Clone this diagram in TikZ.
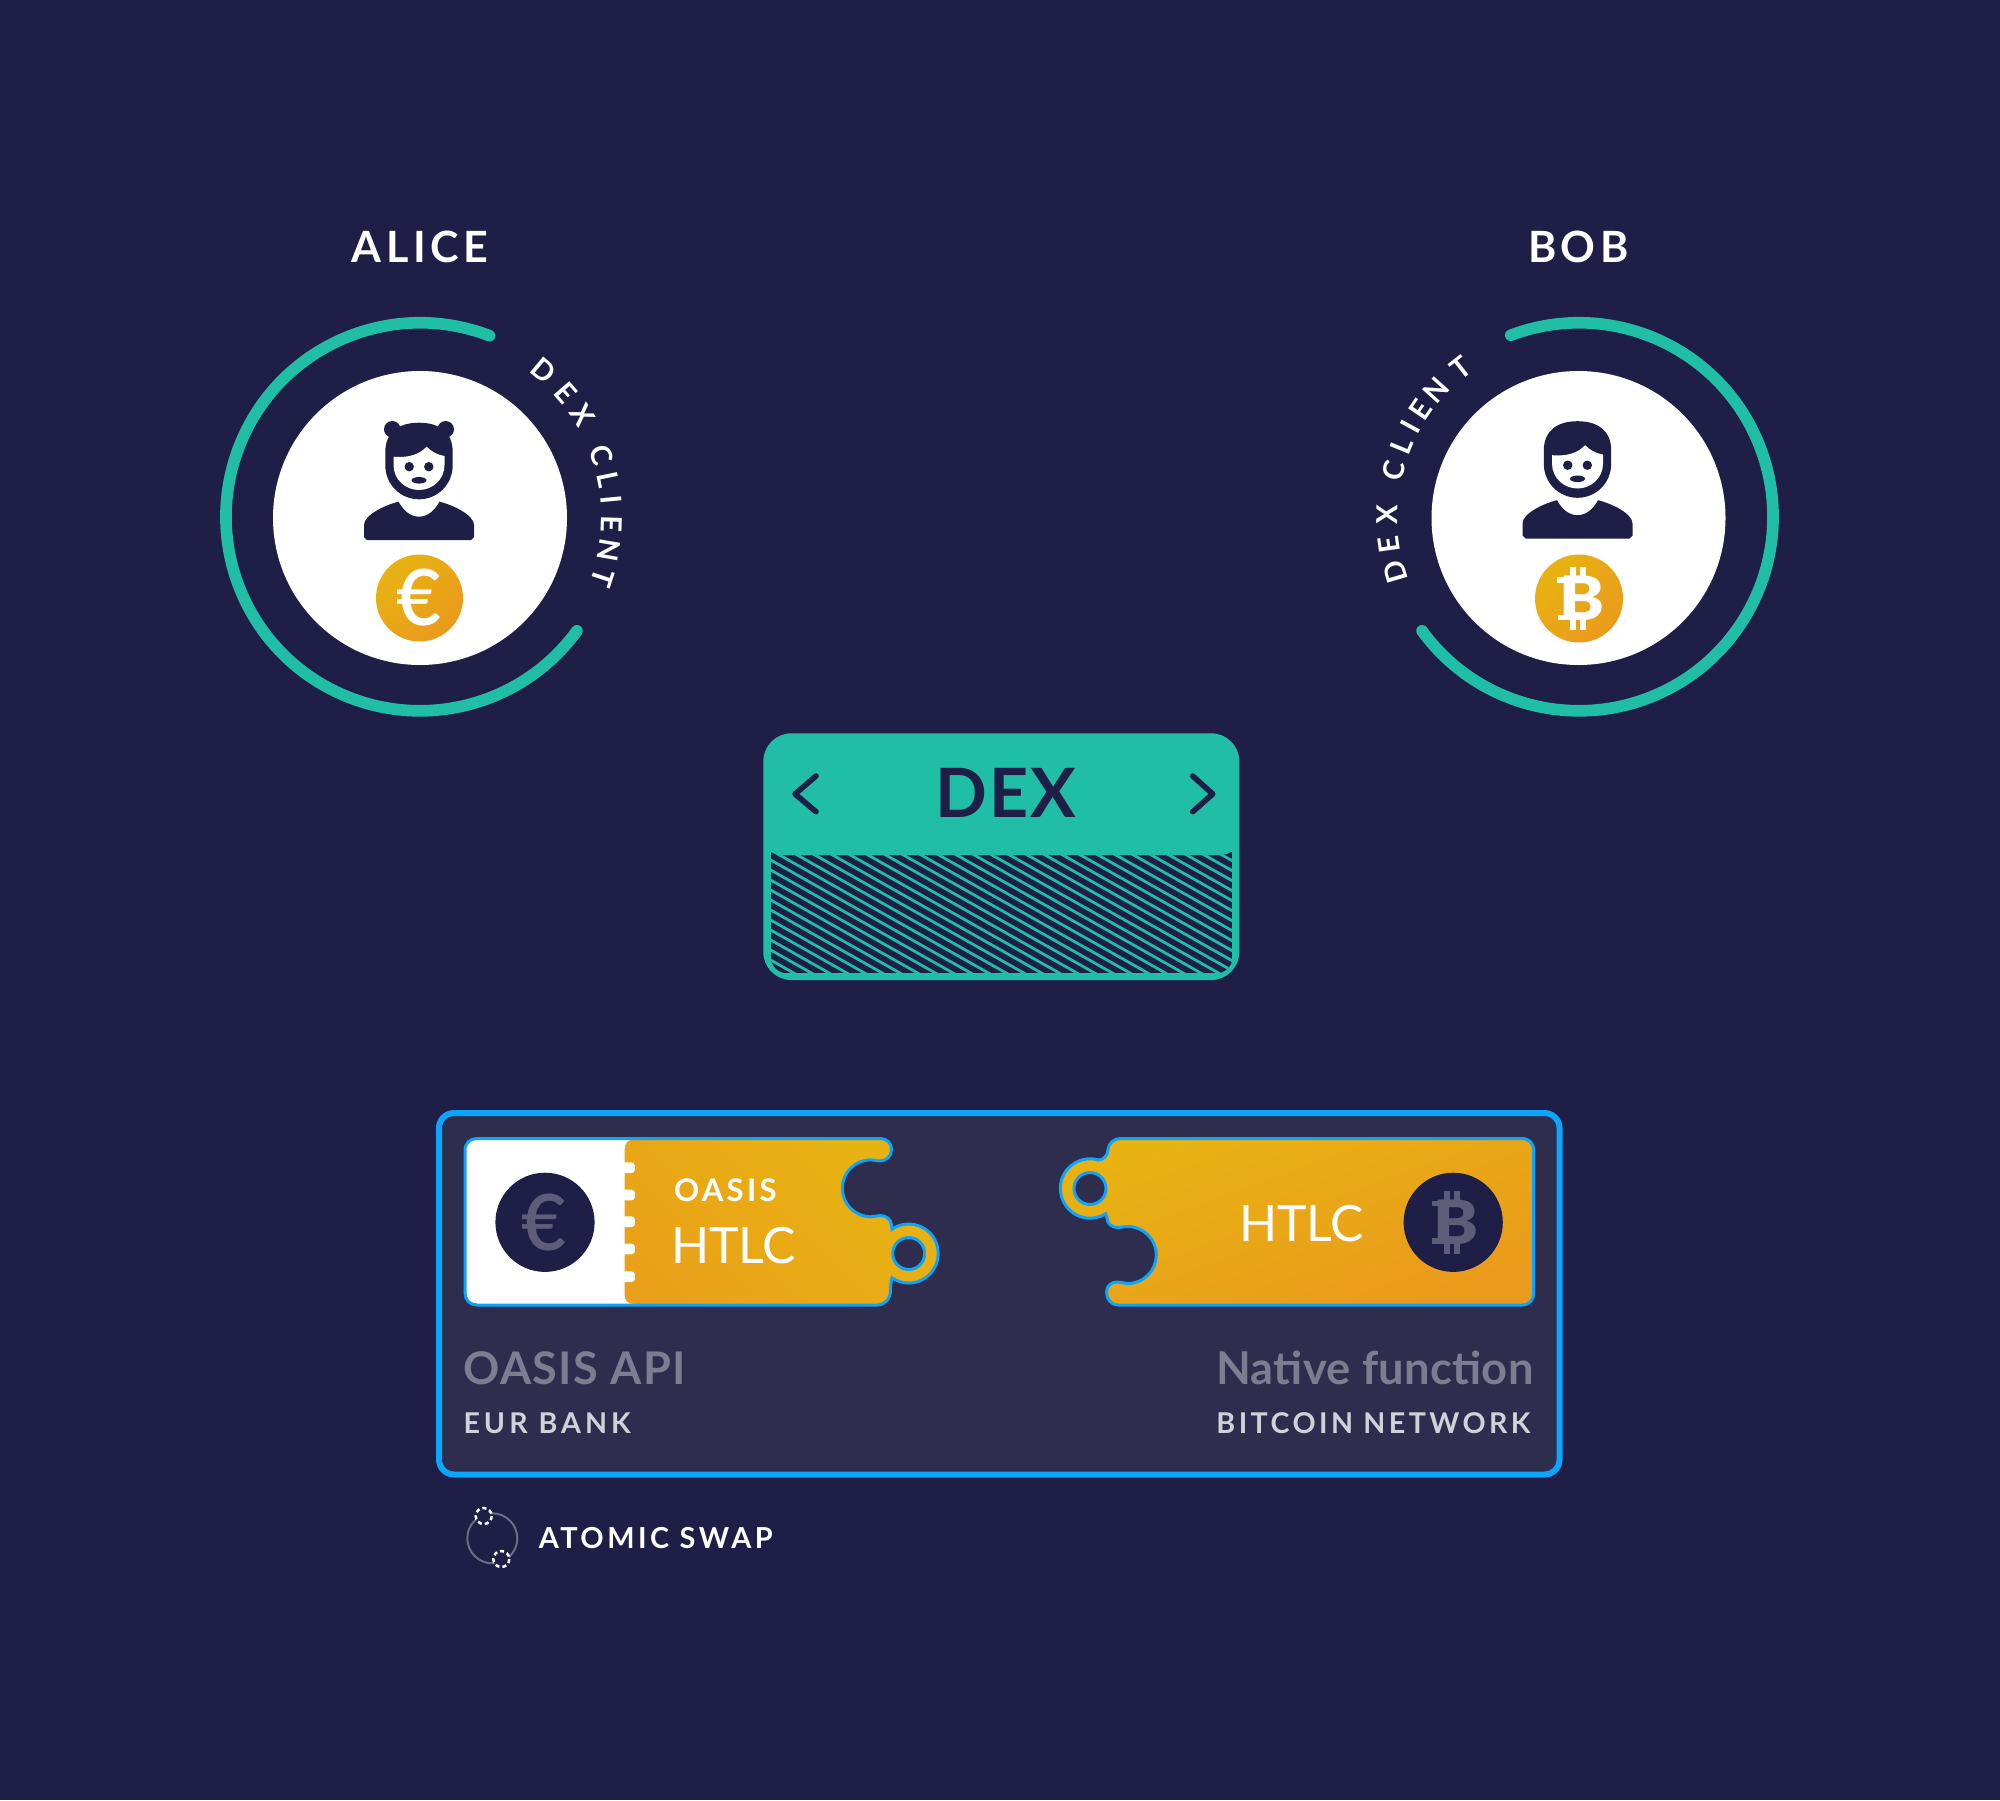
\documentclass[tikz,border=0pt]{standalone}
\usepackage{xcolor}
\usepackage{fontspec}
\usetikzlibrary{calc}
\setmainfont{Lato}
\newfontfamily\medfont{Lato}[UprightFont=* Bold,LetterSpace=0.6]
\newfontfamily\capsfont{Lato}[UprightFont=* Bold,LetterSpace=10.5]
\newfontfamily\dexfont{Lato}[UprightFont=* Bold,LetterSpace=3]
\newfontfamily\blackfont{Lato}[UprightFont=* Black]
\newfontfamily\coinfont{Lato}[UprightFont=* Semibold]
\definecolor{nightbg}{HTML}{1E1E46}
\definecolor{panelbg}{HTML}{2E2D4D}
\definecolor{dexteal}{HTML}{20BDA7}
\definecolor{lineblue}{HTML}{0DA5FC}
\definecolor{goldtop}{HTML}{E8B312}
\definecolor{goldlow}{HTML}{EA9A1C}
\definecolor{dimmark}{HTML}{5E5C78}
\definecolor{dimtext}{HTML}{7E7C90}
\definecolor{softtext}{HTML}{D2D1D9}
\definecolor{ringgrey}{HTML}{6E6C84}
\newcommand{\ticketleft}{(477,1138.5) -- (880,1138.5) .. controls (887,1138.5) and (891.5,1143) .. (891.5,1149.5) .. controls (891.5,1156) and (886,1161) .. (880,1161) .. controls (877,1161) and (874,1159.8) .. (870.8,1159.8) arc [start angle=-90,end angle=-270,radius=28.5] .. controls (874,1216.8) and (877,1215.5) .. (880,1215.5) .. controls (886,1215.5) and (891,1219) .. (891.5,1225) -- (892,1229.2) arc [start angle=-124.5,end angle=124.5,radius=29.5] .. controls (891,1282) and (890.5,1285) .. (890.5,1290) .. controls (890.5,1299) and (885,1305) .. (877,1305) -- (477,1305) .. controls (470,1305) and (465,1300) .. (465,1293) -- (465,1150.5) .. controls (465,1143) and (470,1138.5) .. (477,1138.5) -- cycle}
\newcommand{\ticketright}{(1521.7,1138.5) -- (1121,1138.5) .. controls (1114,1138.5) and (1108.5,1143) .. (1108,1150) .. controls (1107.5,1156) and (1103,1160) .. (1098.5,1160) arc [start angle=-73.4,end angle=-301.8,radius=29.7] -- (1107,1218) .. controls (1107,1224) and (1112,1227.5) .. (1118,1227.5) .. controls (1121,1227.5) and (1124,1226.5) .. (1127.8,1226.5) arc [start angle=-90,end angle=90,radius=28.5] .. controls (1124,1283.5) and (1121,1282) .. (1117.5,1282) .. controls (1111,1282) and (1106.5,1286) .. (1106.5,1292) .. controls (1106.5,1299) and (1111,1305) .. (1118,1305) -- (1521.7,1305) .. controls (1529,1305) and (1533.7,1300) .. (1533.7,1293) -- (1533.7,1150.5) .. controls (1533.7,1143) and (1529,1138.5) .. (1521.7,1138.5) -- cycle}
\tikzset{
	ring/.style={color=dexteal,line width=4.2pt,line cap=round},
	ticketline/.style={color=lineblue,line width=1.08pt},
	arcletter/.style={text=white,inner sep=0pt,font=\capsfont\fontsize{10.4}{12}\selectfont},
	coinglyph/.style={inner sep=0pt,font=\coinfont\fontsize{28}{32}\selectfont},
	dashring/.style={color=white,fill=nightbg,dash pattern=on 1.5pt off 1.1pt,line width=0.9pt},
	pics/persona/.style={code={
		\fill [color=nightbg] (-52,22) -- (-55,19) -- (-55,7) .. controls (-55,-3) and (-34,-13) .. (-20.5,-16.3) .. controls (-16,-8) and (-9,-1.3) .. (0,-1.3) .. controls (9,-1.3) and (16,-8) .. (20.5,-16.3) .. controls (34,-13) and (55,-3) .. (55,7) -- (55,19) -- (52,22) -- cycle;
		\fill [color=nightbg] (-33.7,-66) .. controls (-33.7,-86) and (-20,-95.3) .. (0,-95.3) .. controls (20,-95.3) and (33.7,-86) .. (33.7,-66) -- (33.7,-53) .. controls (33.7,-33) and (18,-18.7) .. (0,-18.7) .. controls (-18,-18.7) and (-33.7,-33) .. (-33.7,-53) -- cycle;
		\fill [color=white] (-25.5,-61.3) .. controls (-12,-60) and (0,-63) .. (7.6,-71.3) .. controls (12,-67) and (18,-63) .. (25.5,-62) -- (25.5,-53) .. controls (25.5,-38) and (13,-28) .. (0,-28) .. controls (-13,-28) and (-25.5,-38) .. (-25.5,-53) -- cycle;
		\fill [color=nightbg] (-9.8,-51.3) circle [radius=4.7];
		\fill [color=nightbg] (9.8,-51.3) circle [radius=4.7];
		\fill [color=nightbg] (0,-37.7) ellipse [x radius=7.5,y radius=3.3];
	}},
	pics/bitcoinmark/.style={code={
		\fill [color=#1] (-9,-31.5) rectangle (-3.5,-18);
		\fill [color=#1] (1,-31.5) rectangle (6.5,-18);
		\fill [color=#1] (-9,18) rectangle (-3.5,31.5);
		\fill [color=#1] (1,18) rectangle (6.5,31.5);
		\fill [color=#1] (-21.7,16) rectangle (-12,21.5);
		\fill [color=#1] (-21,-21.5) rectangle (-12,-16);
		\node (btcglyph) [text=#1,inner sep=0pt,xscale=1.1,font=\blackfont\fontsize{22}{26}\selectfont] at (3,0) {B};
	}},
}
\begin{document}
\begin{tikzpicture}[x=0.36pt,y=0.36pt,yscale=-1,xscale=1]
	\fill [color=nightbg] (0,0) rectangle (2000,1800);
	\useasboundingbox (0,0) rectangle (2000,1800);
	%alice
	\draw (420,262.7) node (alicename) [anchor=base,text=white,inner sep=0pt,font=\capsfont\fontsize{15.5}{18}\selectfont] {ALICE};
	\draw [ring] (420,516.8) ++(-69:194) arc [start angle=-69,end angle=-324,radius=194];
	\fill [color=white] (420,518) circle [radius=147];
	\pic [yscale=-1] at (419,518) {persona};
	\fill [color=nightbg] (392.3,429.3) circle [radius=8.3];
	\fill [color=nightbg] (445.7,429.3) circle [radius=8.3];
	\shade [top color=goldtop,bottom color=goldlow,shading angle=45] (419.5,598) circle [radius=43.5];
	\draw (419,598) node (alicecoin) [coinglyph,text=white] {€};
	\foreach \letter/\ang [count=\i] in {D/50,E/40.8,X/32.3,C/19.2,L/11.6,I/5.4,E/-1.7,N/-9.8,T/-18.2}
		\node (aliceletter\i) [arcletter,rotate=\ang-90] at ($(420,518)+(-\ang:192)$) {\letter};
	%bob
	\draw (1578.3,262.7) node (bobname) [anchor=base,text=white,inner sep=0pt,font=\capsfont\fontsize{15.5}{18}\selectfont] {BOB};
	\draw [ring] (1579,516.8) ++(-110.6:194) arc [start angle=-110.6,end angle=144,radius=194];
	\fill [color=white] (1578.5,518) circle [radius=147];
	\pic [yscale=-1] at (1577.5,516.5) {persona};
	\shade [top color=goldtop,bottom color=goldlow,shading angle=45] (1579,598.5) circle [radius=44];
	\pic at (1579,598.5) {bitcoinmark={white}};
	\foreach \letter/\ang [count=\i] in {D/196.4,E/187.9,X/179.1,C/165.6,L/157.7,I/151.4,E/145.6,N/138,T/128}
		\node (bobletter\i) [arcletter,rotate=\ang-90] at ($(1578.5,518)+(-\ang:191)$) {\letter};
	%dex
	\fill [color=dexteal,rounded corners=10.08pt] (763.3,733.3) rectangle (1239.3,980);
	\begin{scope}
		\clip [rounded corners=6pt] (770.7,800) rectangle (1232.7,973.3);
		\fill [color=nightbg] (770.7,800) rectangle (1232.7,973.3);
		\foreach \liney in {590,600,...,980}
			\draw [color=dexteal,line width=1pt] (770.7,\liney) -- (1232.7,\liney+261);
	\end{scope}
	\fill [color=dexteal] (770,790) -- (770.7,850) .. controls (773,853.5) and (778,855) .. (785,855) -- (1218,855) .. controls (1225,855) and (1230,853.5) .. (1232.7,850) -- (1233,790) -- cycle;
	\draw (1005.7,793.3) node (dextitle) [text=nightbg,inner sep=0pt,font=\dexfont\fontsize{24.5}{28}\selectfont] {DEX};
	\coordinate (chevlefttop) at (816,776);
	\coordinate (chevleftmid) at (795,794);
	\coordinate (chevleftlow) at (816,811.7);
	\coordinate (chevrighttop) at (1192.7,776);
	\coordinate (chevrightmid) at (1212.7,794);
	\coordinate (chevrightlow) at (1192.7,811.7);
	\draw [color=nightbg,line width=2pt,line cap=round,line join=round] (chevlefttop) -- (chevleftmid) -- (chevleftlow);
	\draw [color=nightbg,line width=2pt,line cap=round,line join=round] (chevrighttop) -- (chevrightmid) -- (chevrightlow);
	%swap panel
	\draw [color=lineblue,fill=panelbg,line width=2.16pt,rounded corners=5.4pt] (439,1113) rectangle (1559.5,1474.5);
	\shade [top color=goldtop,bottom color=goldlow,shading angle=-45] \ticketleft;
	\begin{scope}
		\clip \ticketleft;
		\fill [color=white] (460,1130) -- (634,1130) -- (634,1139.5) .. controls (628,1139.5) and (624.6,1143) .. (624.6,1149) -- (624.6,1295) .. controls (624.6,1301) and (628,1304) .. (634,1304) -- (634,1310) -- (460,1310) -- cycle;
		\foreach \taby in {1167.7,1195,1221.7,1249,1276.7}
			\fill [color=white,rounded corners=1.2pt] (618,\taby-5.3) rectangle (634.9,\taby+5.3);
	\end{scope}
	\draw [ticketline] \ticketleft;
	\draw [ticketline,fill=panelbg] (908.7,1253.5) circle [radius=16];
	\fill [color=nightbg] (545,1222.3) circle [radius=49.6];
	\draw (544,1222.3) node (eurbadge) [coinglyph,text=dimmark] {€};
	\draw (673.5,1201.7) node (oasislabel) [anchor=base west,text=white,inner sep=0pt,font=\capsfont\fontsize{11.2}{13}\selectfont] {OASIS};
	\draw (670.5,1263.3) node (htlcleft) [anchor=base west,text=white,inner sep=0pt,font=\fontsize{18}{20}\selectfont] {HTLC};
	\shade [top color=goldtop,middle color=goldtop!92!goldlow,bottom color=goldlow,shading angle=20] \ticketright;
	\draw [ticketline] \ticketright;
	\draw [ticketline,fill=panelbg] (1090,1188.5) circle [radius=16];
	\fill [color=nightbg] (1453.2,1222.3) circle [radius=49.6];
	\pic at (1453.2,1222.3) {bitcoinmark={dimmark}};
	\draw (1238.5,1241.7) node (htlcright) [anchor=base west,text=white,inner sep=0pt,font=\fontsize{18}{20}\selectfont] {HTLC};
	\draw (463,1384) node (oasisapi) [anchor=base west,text=dimtext,inner sep=0pt,font=\medfont\addfontfeature{LetterSpace=3}\fontsize{16.2}{18}\selectfont] {OASIS API};
	\draw (463,1433.3) node (eurbank) [anchor=base west,text=softtext,inner sep=0pt,font=\capsfont\addfontfeature{LetterSpace=14}\fontsize{10.3}{12}\selectfont] {EUR BANK};
	\draw (1534,1384) node (nativefn) [anchor=base east,text=dimtext,inner sep=0pt,font=\medfont\fontsize{16.3}{18}\selectfont] {Native function};
	\draw (1531,1433.3) node (btcnet) [anchor=base east,text=softtext,inner sep=0pt,font=\capsfont\addfontfeature{LetterSpace=12}\fontsize{10.3}{12}\selectfont] {BITCOIN NETWORK};
	%legend
	\draw [color=ringgrey,line width=0.72pt] (492.3,1538.3) circle [radius=25];
	\draw [dashring] (483.7,1516) circle [radius=8];
	\draw [dashring] (501.3,1559) circle [radius=8];
	\draw (538.3,1548.3) node (swaplabel) [anchor=base west,text=white,inner sep=0pt,font=\capsfont\addfontfeature{LetterSpace=12}\fontsize{10.4}{12}\selectfont] {ATOMIC SWAP};
\end{tikzpicture}
\end{document}
